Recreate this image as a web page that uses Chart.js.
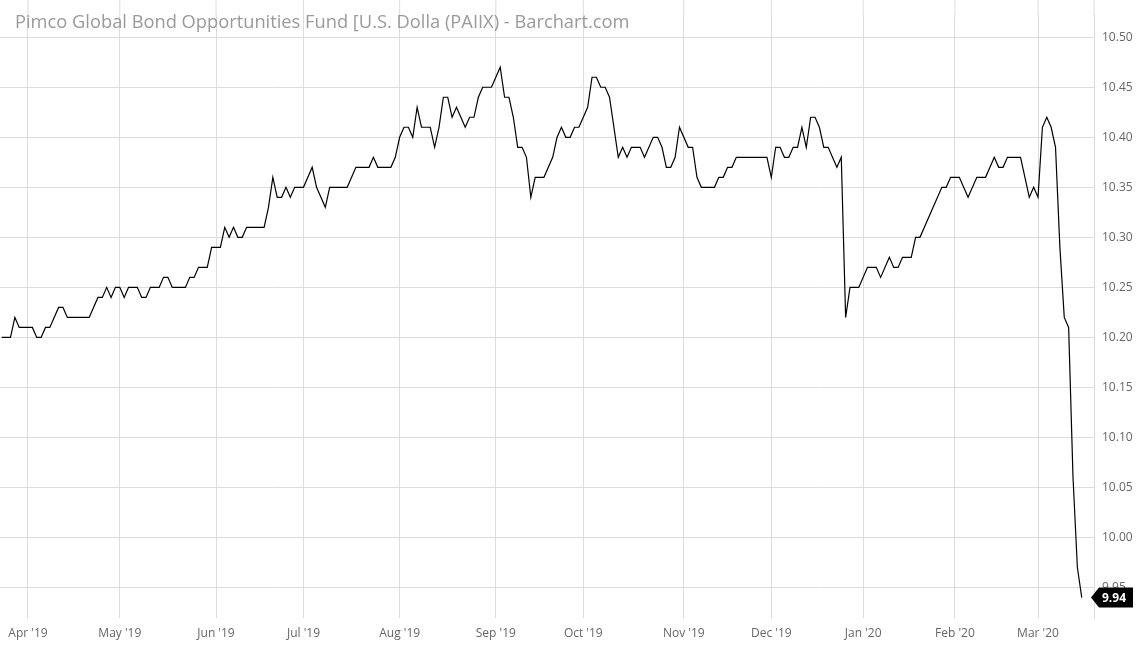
<!DOCTYPE html>
<html><head><meta charset="utf-8">
<script src="https://cdn.jsdelivr.net/npm/chart.js@4.4.0/dist/chart.umd.min.js"></script>
<style>html,body{margin:0;padding:0;background:#fff}#wrap{width:1140px;height:645px}</style>
</head><body><div id="wrap"><canvas id="c"></canvas></div>
<script>
const titleText = "Pimco Global Bond Opportunities Fund [U.S. Dolla (PAIIX) - Barchart.com";
// trading-day index of each vertex
const dayIdx = [0,2,3,4,7,8,9,10,11,13,14,15,20,22,23,24,25,26,27,28,29,31,32,33,34,36,37,38,39,42,43,44,45,47,48,50,51,52,53,54,55,56,60,61,62,63,64,65,66,67,69,71,72,74,75,79,81,84,85,86,89,
90,91,92,93,94,95,96,98,99,100,101,102,103,104,106,107,108,109,110,112,114,115,116,117,118,119,120,121,122,124,126,127,128,129,130,131,132,134,135,136,137,138,139,141,142,143,144,146,147,149,150,151,152,153,154,155,157,158,159,160,163,164,165,166,167,168,175,176,177,178,179,180,181,182,183,184,185,186,187,188,189,191,192,193,194,196,198,200,201,203,204,205,206,208,209,210,215,216,217,219,221,223,225,227,228,229,230,233,235,236,237,238,239,240,241,242,243,244,245,246,247];
const prices = [10.20,10.20,10.22,10.21,10.21,10.20,10.20,10.21,10.21,10.23,10.23,10.22,10.22,10.24,10.24,10.25,10.24,10.25,10.25,10.24,10.25,10.25,10.24,10.24,10.25,10.25,10.26,10.26,10.25,10.25,10.26,10.26,10.27,10.27,10.29,10.29,10.31,10.30,10.31,10.30,10.30,10.31,10.31,10.33,10.36,10.34,10.34,10.35,10.34,10.35,10.35,10.37,10.35,10.33,10.35,10.35,10.37,10.37,10.38,10.37,10.37,
10.38,10.40,10.41,10.41,10.40,10.43,10.41,10.41,10.39,10.41,10.44,10.44,10.42,10.43,10.41,10.42,10.42,10.44,10.45,10.45,10.47,10.44,10.44,10.42,10.39,10.39,10.38,10.34,10.36,10.36,10.38,10.40,10.41,10.40,10.40,10.41,10.41,10.43,10.46,10.46,10.45,10.45,10.44,10.38,10.39,10.38,10.39,10.39,10.38,10.40,10.40,10.39,10.37,10.37,10.38,10.41,10.39,10.39,10.36,10.35,10.35,10.36,10.36,10.37,10.37,10.38,10.38,10.36,10.39,10.39,10.38,10.38,10.39,10.39,10.41,10.39,10.42,10.42,10.41,10.39,10.39,10.37,10.38,10.22,10.25,10.25,10.27,10.27,10.26,10.28,10.27,10.27,10.28,10.28,10.30,10.30,10.35,10.35,10.36,10.36,10.34,10.36,10.36,10.38,10.37,10.37,10.38,10.38,10.34,10.35,10.34,10.41,10.42,10.41,10.39,10.29,10.22,10.21,10.06,9.97,9.94];
const monthIdx = [6,27,49,69,91,113,133,156,176,197,218,237];
const monthLabels = ["Apr '19","May '19","Jun '19","Jul '19","Aug '19","Sep '19","Oct '19","Nov '19","Dec '19","Jan '20","Feb '20","Mar '20"];
const yTicks = [9.95,10.00,10.05,10.10,10.15,10.20,10.25,10.30,10.35,10.40,10.45,10.50];
const lastPrice = prices[prices.length-1];

const overlay = {
  id:'overlay',
  beforeDatasetsDraw(chart){
    const ctx = chart.ctx, xs = chart.scales.x;
    ctx.save(); ctx.strokeStyle = '#dcdcdc'; ctx.lineWidth = 1;
    monthIdx.forEach(v=>{ const x = xs.getPixelForValue(v);
      ctx.beginPath(); ctx.moveTo(x,0); ctx.lineTo(x,chart.chartArea.top+1); ctx.stroke(); });
    const xr = chart.chartArea.right;
    ctx.beginPath(); ctx.moveTo(xr,0); ctx.lineTo(xr,chart.chartArea.top+1); ctx.stroke();
    ctx.restore();
  },
  afterDraw(chart){
    const ctx = chart.ctx, y = chart.scales.y.getPixelForValue(lastPrice);
    const x0 = chart.chartArea.right - 3;
    ctx.save();
    ctx.fillStyle = '#000';
    ctx.beginPath();
    ctx.moveTo(x0, y); ctx.lineTo(x0+8, y-10); ctx.lineTo(x0+42, y-10);
    ctx.lineTo(x0+42, y+10); ctx.lineTo(x0+8, y+10); ctx.closePath(); ctx.fill();
    ctx.fillStyle = '#fff'; ctx.font = 'bold 12px "Open Sans"';
    ctx.textBaseline = 'middle'; ctx.textAlign = 'left';
    ctx.fillText(lastPrice.toFixed(2), x0+11, y+1);
    ctx.fillStyle = '#9a9a9a'; ctx.font = '18.3px "Open Sans"';
    ctx.textBaseline = 'alphabetic';
    ctx.fillText(titleText, 15, 28);
    ctx.restore();
  }
};

new Chart(document.getElementById('c'), {
  type:'line',
  data:{datasets:[{data: dayIdx.map((d,i)=>({x:d,y:prices[i]})), borderColor:'#000', borderWidth:1.2, pointRadius:0, tension:0, fill:false}]},
  options:{
    responsive:true, maintainAspectRatio:false, animation:false,
    layout:{padding:0},
    plugins:{legend:{display:false}, tooltip:{enabled:false}},
    scales:{
      x:{type:'linear', min:-0.4, max:249.8,
        afterBuildTicks(s){ s.ticks = monthIdx.map(v=>({value:v})); },
        afterFit(s){ s.height = 27; },
        grid:{color:'#dcdcdc', drawTicks:false},
        border:{display:false},
        ticks:{autoSkip:false, maxRotation:0, padding:8, color:'#666', font:{family:'Open Sans', size:12},
          callback(v){ const i = monthIdx.indexOf(v); return i>=0 ? monthLabels[i] : ''; }}
      },
      y:{position:'right', min:9.9196, max:10.522,
        afterBuildTicks(s){ s.ticks = yTicks.map(v=>({value:v})); },
        afterFit(s){ s.width = 46; },
        grid:{color:'#dcdcdc', drawTicks:false},
        border:{display:true, color:'#dcdcdc'},
        ticks:{padding:8, color:'#666', font:{family:'Open Sans', size:12}, callback:v=>v.toFixed(2)}
      }
    }
  },
  plugins:[overlay]
});
</script></body></html>
